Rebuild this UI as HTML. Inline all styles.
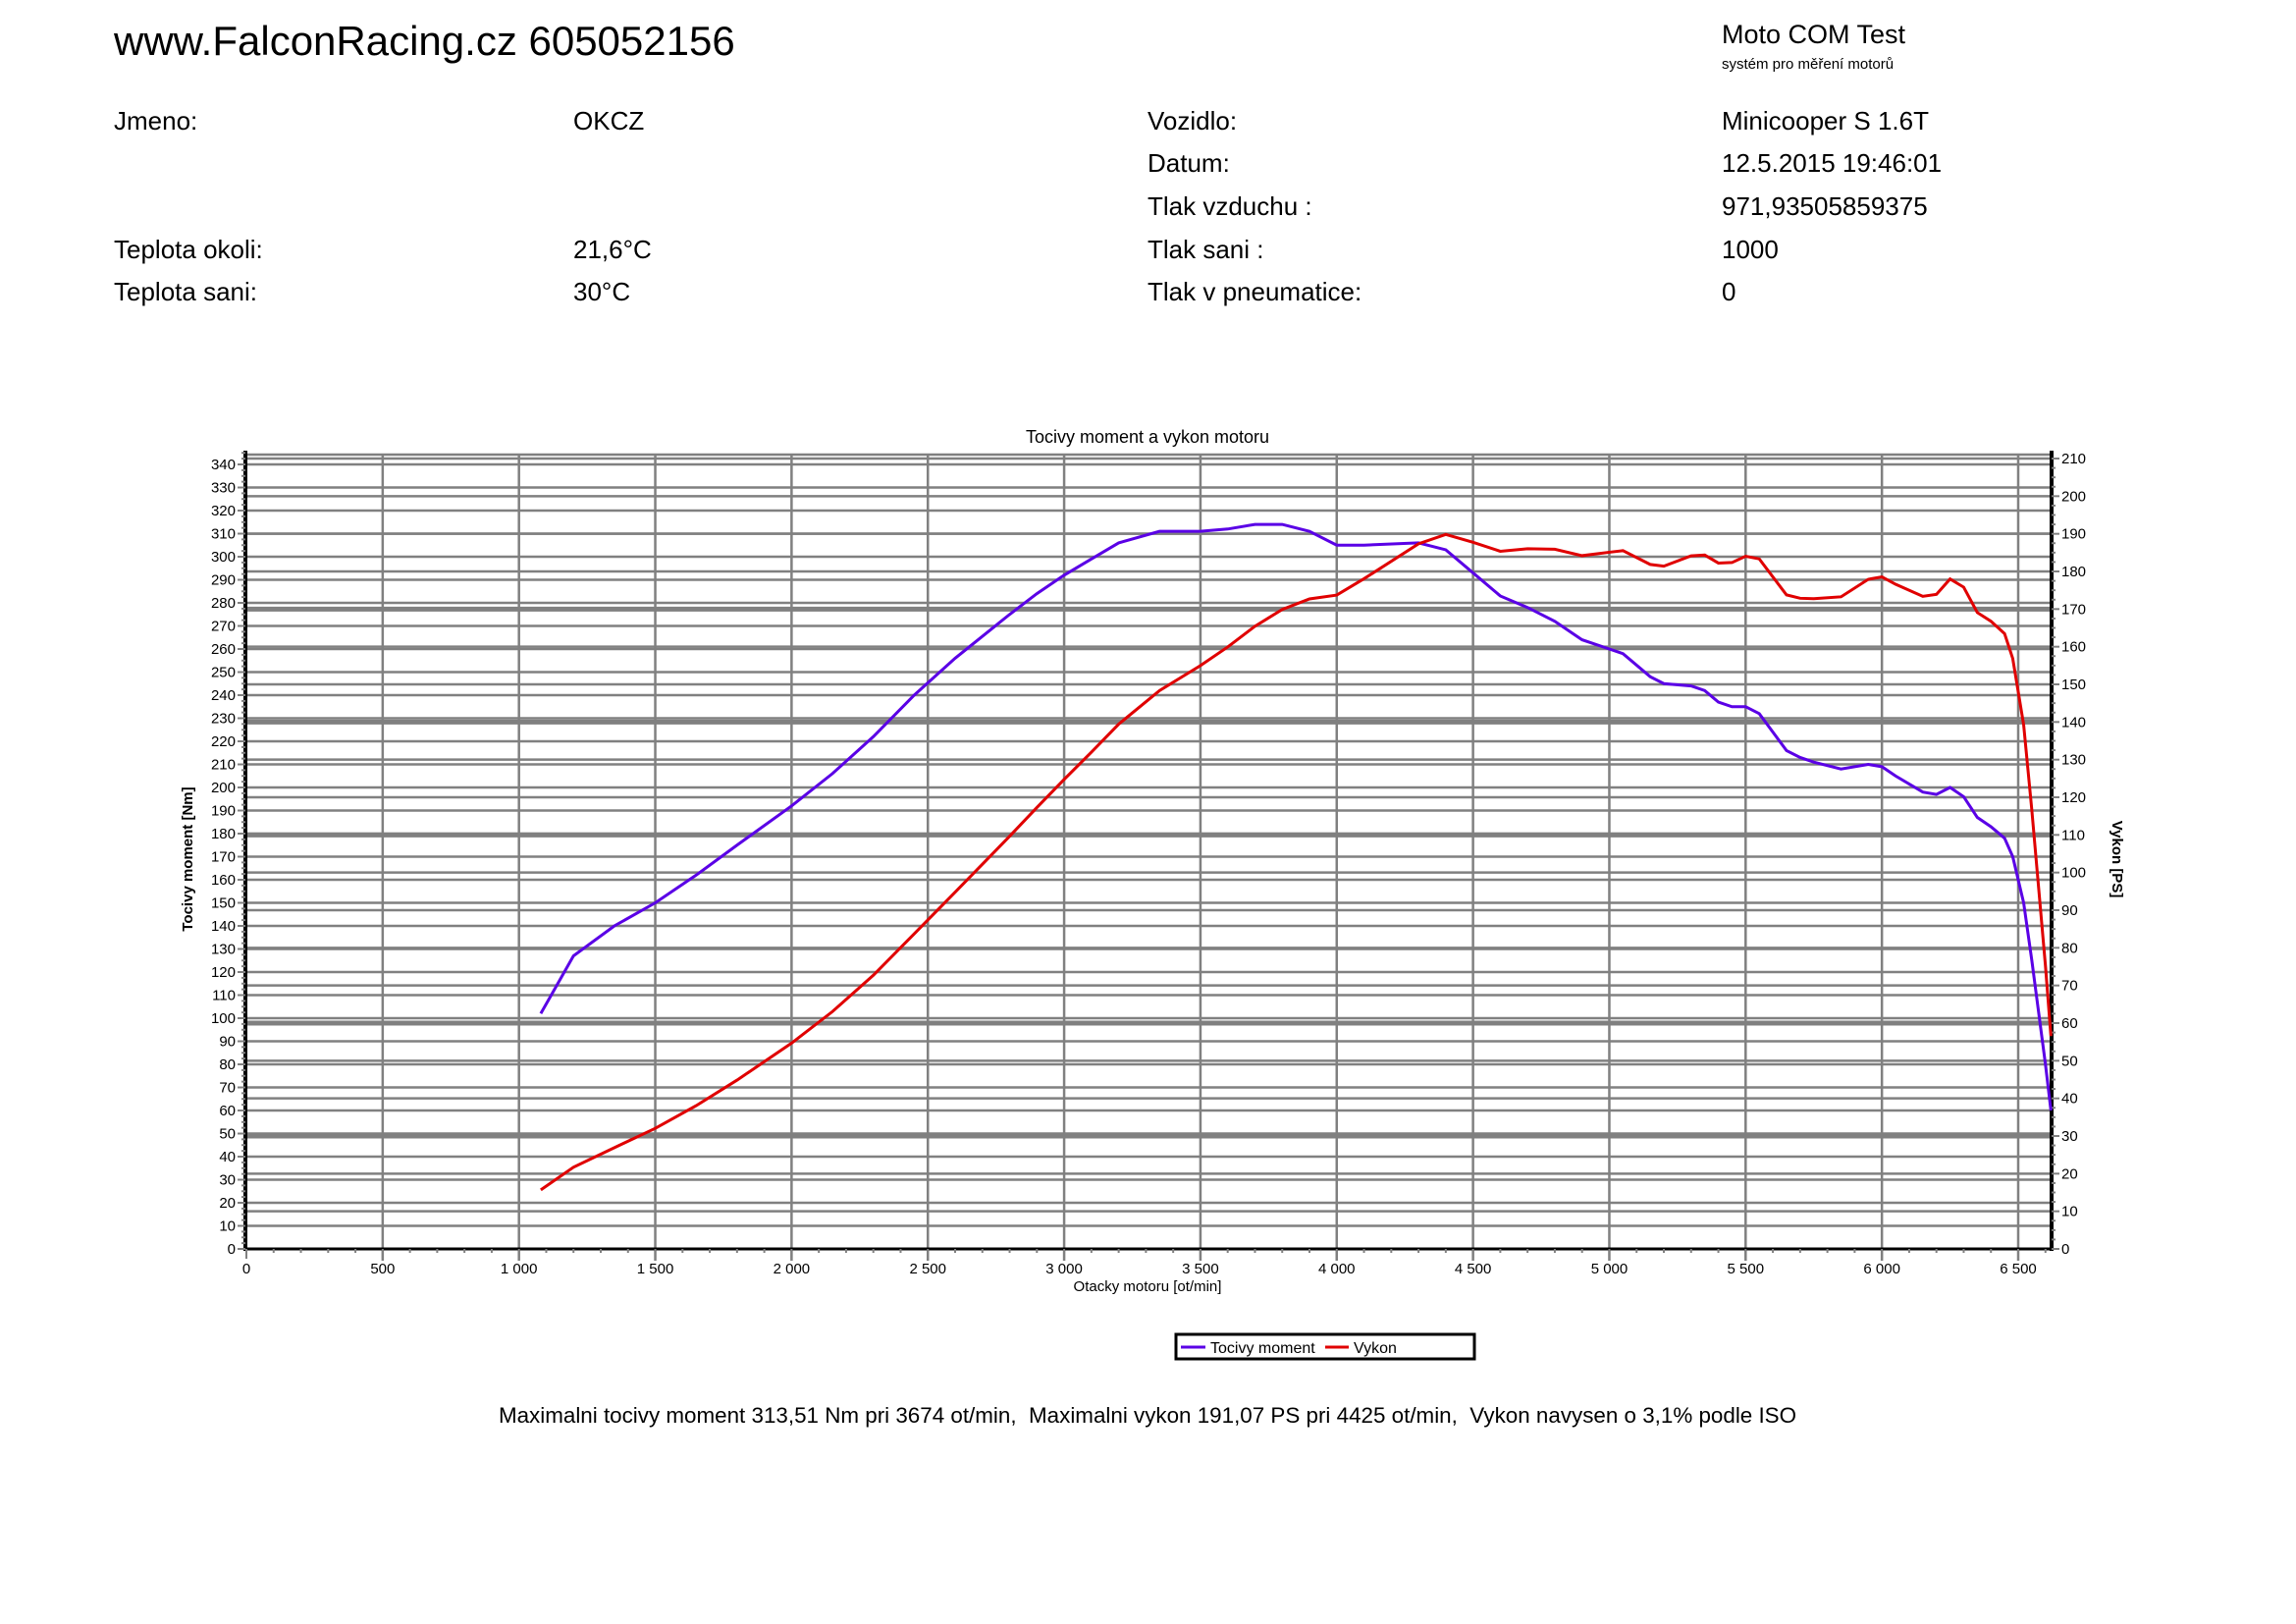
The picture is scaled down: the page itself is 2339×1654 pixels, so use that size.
<!DOCTYPE html>
<html><head><meta charset="utf-8"><style>
body{margin:0;width:2339px;height:1654px;background:#fff;overflow:hidden;font-family:"Liberation Sans",sans-serif;}
.t{position:absolute;white-space:nowrap;color:#000;}
.r{font-size:26px;}
</style></head><body>
<div class="t" style="left:116px;top:18px;font-size:42px;">www.FalconRacing.cz 605052156</div>
<div class="t" style="left:1754px;top:20px;font-size:27px;">Moto COM Test</div>
<div class="t" style="left:1754px;top:57px;font-size:15px;">systém pro měření motorů</div>
<div class="t r" style="left:116px;top:108px;">Jmeno:</div>
<div class="t r" style="left:584px;top:108px;">OKCZ</div>
<div class="t r" style="left:1169px;top:108px;">Vozidlo:</div>
<div class="t r" style="left:1754px;top:108px;">Minicooper S 1.6T</div>
<div class="t r" style="left:1169px;top:151px;">Datum:</div>
<div class="t r" style="left:1754px;top:151px;">12.5.2015 19:46:01</div>
<div class="t r" style="left:1169px;top:195px;">Tlak vzduchu :</div>
<div class="t r" style="left:1754px;top:195px;">971,93505859375</div>
<div class="t r" style="left:116px;top:239px;">Teplota okoli:</div>
<div class="t r" style="left:584px;top:239px;">21,6°C</div>
<div class="t r" style="left:1169px;top:239px;">Tlak sani :</div>
<div class="t r" style="left:1754px;top:239px;">1000</div>
<div class="t r" style="left:116px;top:282px;">Teplota sani:</div>
<div class="t r" style="left:584px;top:282px;">30°C</div>
<div class="t r" style="left:1169px;top:282px;">Tlak v pneumatice:</div>
<div class="t r" style="left:1754px;top:282px;">0</div>
<div class="t" style="left:0;width:2338px;text-align:center;top:1429px;font-size:22.4px;">Maximalni tocivy moment 313,51 Nm pri 3674 ot/min,&nbsp; Maximalni vykon 191,07 PS pri 4425 ot/min,&nbsp; Vykon navysen o 3,1% podle ISO</div>
<svg id="s" width="2339" height="1654" style="position:absolute;left:0;top:0" xmlns="http://www.w3.org/2000/svg" font-family="Liberation Sans, sans-serif"></svg>
<script>
const s=document.getElementById('s');
let h='';
const L=250,R=2090,B=1272,T=463;
const X=r=>251+r*(2056-251)/6500;
const YT=t=>B-t*(B-473)/340;
const YP=p=>B-p*(B-1157)/30;
for(let t=10;t<=340;t+=10)h+=`<line x1="${L}" x2="${R}" y1="${YT(t)}" y2="${YT(t)}" stroke="#808080" stroke-width="2.5"/>`;
for(let p=10;p<=210;p+=10){const w=[30,60,110,140,170].includes(p)?5:2.5;h+=`<line x1="${L}" x2="${R}" y1="${YP(p)}" y2="${YP(p)}" stroke="#808080" stroke-width="${w}"/>`;}
h+=`<line x1="${L}" x2="${R}" y1="${T}" y2="${T}" stroke="#808080" stroke-width="2.5"/>`;
for(let r=500;r<=6500;r+=500)h+=`<line x1="${X(r)}" x2="${X(r)}" y1="${T}" y2="${B+12}" stroke="#808080" stroke-width="2.5"/>`;
h+=`<line x1="${L}" x2="${L}" y1="${T-4}" y2="${B+2}" stroke="#000" stroke-width="4"/>`;
h+=`<line x1="${R}" x2="${R}" y1="${T-4}" y2="${B+2}" stroke="#000" stroke-width="4"/>`;
h+=`<line x1="${L}" x2="${R}" y1="${B}" y2="${B}" stroke="#000" stroke-width="3"/>`;
for(let t=0;t<=345;t+=2.5){const y=YT(t);const big=t%10==0;h+=`<line x1="${big?L-8:L-4}" x2="${L}" y1="${y}" y2="${y}" stroke="#808080" stroke-width="2"/>`;if(big)h+=`<text x="${L-10}" y="${y+5}" font-size="15" text-anchor="end">${t}</text>`;}
for(let p=0;p<=210;p+=2.5){const y=YP(p);const big=p%10==0;h+=`<line x1="${R}" x2="${big?R+8:R+4}" y1="${y}" y2="${y}" stroke="#808080" stroke-width="2"/>`;if(big)h+=`<text x="${R+10}" y="${y+5}" font-size="15">${p}</text>`;}
for(let r=0;r<=6600;r+=100){const x=X(r);h+=`<line x1="${x}" x2="${x}" y1="${B}" y2="${B+(r%500==0?10:4)}" stroke="#808080" stroke-width="2"/>`;}
for(let r=0;r<=6500;r+=500){const lab=r>=1000?Math.floor(r/1000)+' '+String(r%1000).padStart(3,'0'):r;h+=`<text x="${X(r)}" y="${B+25}" font-size="15" text-anchor="middle">${lab}</text>`;}
h+=`<text x="1169" y="451" font-size="18" text-anchor="middle">Tocivy moment a vykon motoru</text>`;
h+=`<text x="1169" y="1315" font-size="15" text-anchor="middle">Otacky motoru [ot/min]</text>`;
h+=`<text transform="translate(196,875) rotate(-90)" font-size="15" font-weight="bold" text-anchor="middle">Tocivy moment [Nm]</text>`;
h+=`<text transform="translate(2152,875) rotate(90)" font-size="15" font-weight="bold" text-anchor="middle">Vykon [PS]</text>`;
const d=[[1080,102],[1200,127],[1350,140],[1500,150],[1650,162],[1800,175],[2000,192],[2150,206],[2300,222],[2450,240],[2600,256],[2800,275],[2900,284],[3000,292],[3100,299],[3200,306],[3350,311],[3500,311],[3600,312],[3700,314],[3800,314],[3900,311],[4000,305],[4100,305],[4300,306],[4400,303],[4500,293],[4600,283],[4700,278],[4800,272],[4900,264],[5000,260],[5050,258],[5150,248],[5200,245],[5300,244],[5350,242],[5400,237],[5450,235],[5500,235],[5550,232],[5650,216],[5700,213],[5750,211],[5850,208],[5950,210],[6000,209],[6050,205],[6150,198],[6200,197],[6250,200],[6300,196],[6350,187],[6400,183],[6450,178],[6480,170],[6520,150],[6550,125],[6600,80],[6620,60]];
let pt='',pp='';
d.forEach(([r,t])=>{pt+=X(r)+','+YT(t)+' ';pp+=X(r)+','+YP(t*r/7023)+' ';});
h+=`<polyline points="${pt}" fill="none" stroke="#5a00e6" stroke-width="3"/>`;
h+=`<polyline points="${pp}" fill="none" stroke="#e00000" stroke-width="3"/>`;
h+=`<rect x="1198" y="1359" width="304" height="25" fill="#fff" stroke="#000" stroke-width="3"/>`;
h+=`<line x1="1203" x2="1228" y1="1372" y2="1372" stroke="#5a00e6" stroke-width="3"/>`;
h+=`<text x="1233" y="1378" font-size="16">Tocivy moment</text>`;
h+=`<line x1="1350" x2="1374" y1="1372" y2="1372" stroke="#e00000" stroke-width="3"/>`;
h+=`<text x="1379" y="1378" font-size="16">Vykon</text>`;
s.innerHTML=h;
</script>
</body></html>
